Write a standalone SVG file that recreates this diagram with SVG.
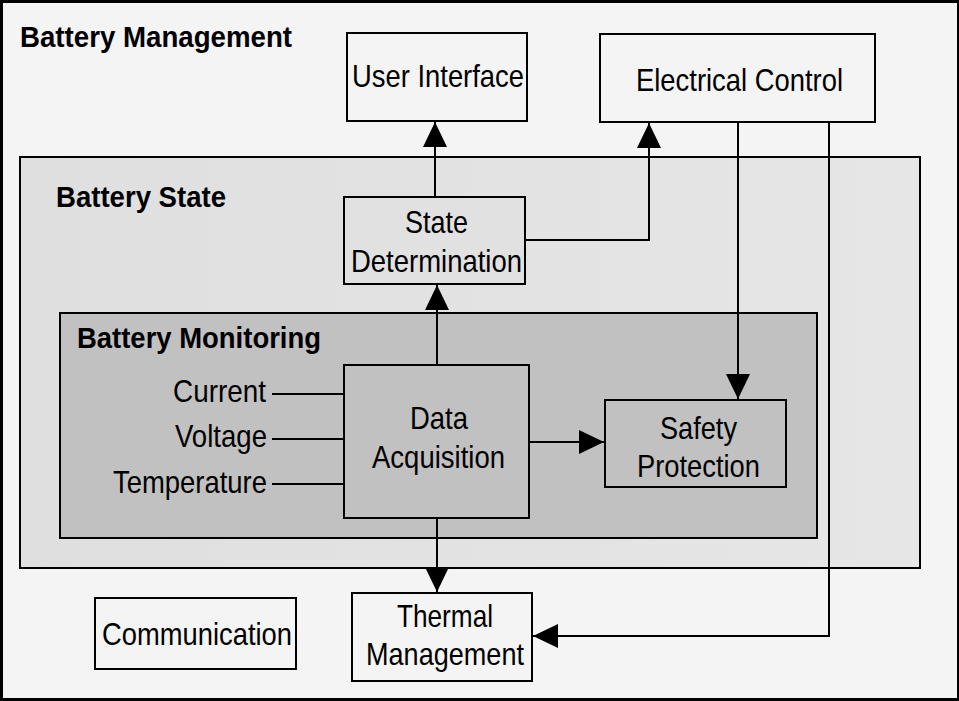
<svg xmlns="http://www.w3.org/2000/svg" width="959" height="701" viewBox="0 0 959 701">
<defs>
<style>
.box{stroke:#000;stroke-width:2}
.light{fill:#f4f4f4}
.mid{fill:#e1e1e1}
.dark{fill:#c1c1c1}
.t{font-family:"Liberation Sans",Arial,sans-serif;font-size:32px;fill:#000}
.b{font-family:"Liberation Sans",Arial,sans-serif;font-size:30px;font-weight:bold;fill:#000}
.c{fill:none;stroke:#000;stroke-width:2}
</style>
<linearGradient id="gState" x1="0" y1="0" x2="1" y2="0">
<stop offset="0" stop-color="#dfdfdf"/>
<stop offset="1" stop-color="#e6e6e6"/>
</linearGradient>
<marker id="arr" viewBox="0 0 25 24" refX="25" refY="12" markerWidth="25" markerHeight="24" markerUnits="userSpaceOnUse" orient="auto">
<path d="M0,0 L25,12 L0,24 Z" fill="#000"/>
</marker>
</defs>
<rect x="0" y="0" width="959" height="701" fill="#000"/>
<g id="battery-management">
<rect x="3" y="3" width="954" height="695" class="light"/>
<text class="b" x="20" y="47" textLength="272" lengthAdjust="spacingAndGlyphs">Battery Management</text>
</g>
<g id="battery-state">
<rect x="20" y="157" width="900" height="411" class="box" fill="url(#gState)"/>
<text class="b" x="56" y="207" textLength="170" lengthAdjust="spacingAndGlyphs">Battery State</text>
</g>
<g id="battery-monitoring">
<rect x="60" y="313" width="757" height="225" class="box dark"/>
<text class="b" x="77" y="348" textLength="244" lengthAdjust="spacingAndGlyphs">Battery Monitoring</text>
</g>
<g id="user-interface">
<rect x="347" y="33" width="180" height="88" class="box light"/>
<text class="t" x="352" y="87" textLength="172" lengthAdjust="spacingAndGlyphs">User Interface</text>
</g>
<g id="electrical-control">
<rect x="600" y="34" width="275" height="88" class="box light"/>
<text class="t" x="636" y="91" textLength="207" lengthAdjust="spacingAndGlyphs">Electrical Control</text>
</g>
<g id="state-determination">
<rect x="344" y="197" width="181" height="87" class="box mid"/>
<text class="t" x="405" y="233" textLength="63" lengthAdjust="spacingAndGlyphs">State</text>
<text class="t" x="351" y="272" textLength="171" lengthAdjust="spacingAndGlyphs">Determination</text>
</g>
<g id="data-acquisition">
<rect x="344" y="365" width="185" height="153" class="box dark"/>
<text class="t" x="410" y="429" textLength="58" lengthAdjust="spacingAndGlyphs">Data</text>
<text class="t" x="372" y="468" textLength="133" lengthAdjust="spacingAndGlyphs">Acquisition</text>
</g>
<g id="safety-protection">
<rect x="605" y="400" width="181" height="87" class="box dark"/>
<text class="t" x="660" y="439" textLength="77" lengthAdjust="spacingAndGlyphs">Safety</text>
<text class="t" x="637" y="477" textLength="123" lengthAdjust="spacingAndGlyphs">Protection</text>
</g>
<g id="communication">
<rect x="95" y="598" width="201" height="71" class="box light"/>
<text class="t" x="102" y="645" textLength="190" lengthAdjust="spacingAndGlyphs">Communication</text>
</g>
<g id="thermal-management">
<rect x="352" y="593" width="180" height="88" class="box light"/>
<text class="t" x="397" y="627" textLength="96" lengthAdjust="spacingAndGlyphs">Thermal</text>
<text class="t" x="366" y="665" textLength="158" lengthAdjust="spacingAndGlyphs">Management</text>
</g>
<g id="inputs">
<text class="t" x="173" y="402" textLength="93" lengthAdjust="spacingAndGlyphs">Current</text>
<text class="t" x="175" y="447" textLength="92" lengthAdjust="spacingAndGlyphs">Voltage</text>
<text class="t" x="113" y="493" textLength="154" lengthAdjust="spacingAndGlyphs">Temperature</text>
</g>
<g id="connectors">
<path class="c" d="M272,394 H344"/>
<path class="c" d="M272,439 H344"/>
<path class="c" d="M272,484 H344"/>
<path class="c" d="M437,365 V285" marker-end="url(#arr)"/>
<path class="c" d="M435,197 V122" marker-end="url(#arr)"/>
<path class="c" d="M525,240 H649 V123" marker-end="url(#arr)"/>
<path class="c" d="M738,122 V399" marker-end="url(#arr)"/>
<path class="c" d="M829,122 V636 H533" marker-end="url(#arr)"/>
<path class="c" d="M529,442 H604" marker-end="url(#arr)"/>
<path class="c" d="M437,518 V592" marker-end="url(#arr)"/>
</g>
</svg>
